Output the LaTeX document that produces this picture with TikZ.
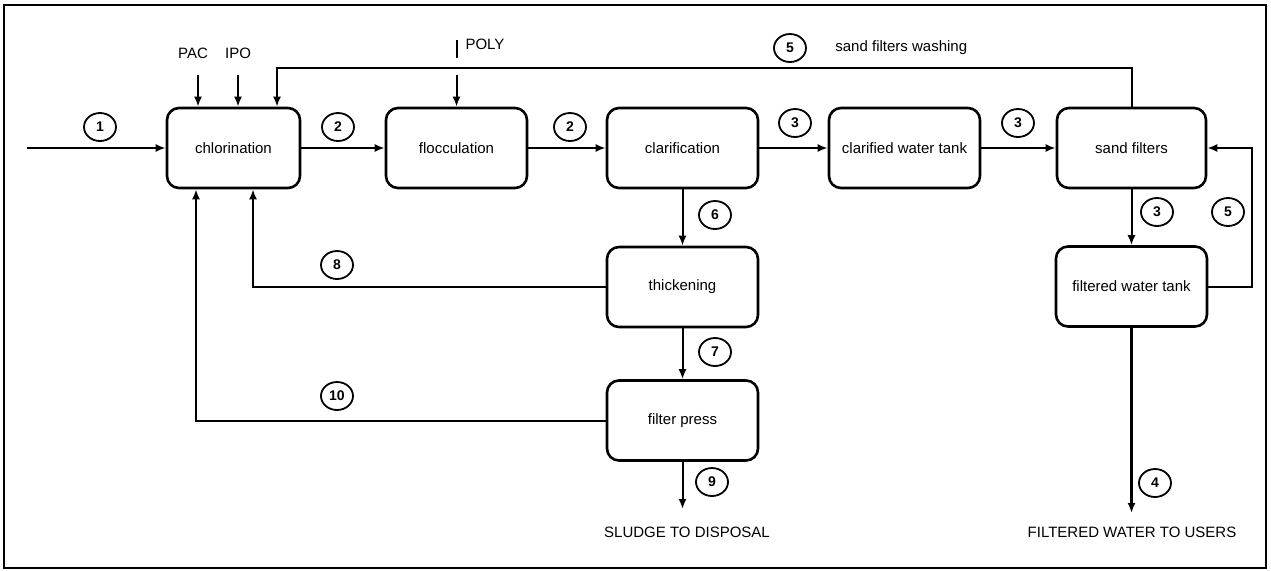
\documentclass[tikz,border=0pt]{standalone}
\usepackage{fontspec}
\setmainfont{Liberation Sans}
\usetikzlibrary{arrows.meta,shapes.geometric}
\begin{document}
\begin{tikzpicture}[x=0.5pt,y=-0.5pt,
  font=\fontsize{7.5}{9}\selectfont,
  unit/.style={draw,line width=1.3pt,rounded corners=6pt,minimum height=40pt,minimum width=75.5pt,inner sep=0pt},
  num/.style={draw,ellipse,line width=0.9pt,minimum width=16pt,minimum height=14pt,inner sep=0pt,font=\fontsize{7}{8}\selectfont\bfseries},
  flow/.style={line width=1pt,-{Latex[length=5pt,width=4pt]}},
  plain/.style={line width=1pt},
  lbl/.style={inner sep=0pt}]
\useasboundingbox (0,0) rectangle (1271,570);
\draw[line width=0.7pt] (4,5) rectangle (1266,568);

% process units
\node[unit,minimum width=66.5pt] (chl) at (233.5,148) {chlorination};
\node[unit,minimum width=70.5pt] (floc) at (456.5,148) {flocculation};
\node[unit] (clar) at (682.5,148) {clarification};
\node[unit] (cwt) at (904.5,148) {clarified water tank};
\node[unit,minimum width=74.5pt] (sand) at (1131.5,148) {sand filters};
\node[unit] (fwt) at (1131.5,286.5) {filtered water tank};
\node[unit] (thick) at (682.5,287) {thickening};
\node[unit] (fp) at (682.5,420.5) {filter press};

% reagent labels
\node[lbl] (pac) at (193,53) {PAC};
\node[lbl] (ipo) at (238,53) {IPO};
\node[lbl] (poly) at (485,44) {POLY};
\node[lbl,anchor=west] (wash) at (835,48) {sand filters washing};
\node[lbl] (sludge) at (687,532) {SLUDGE TO DISPOSAL};
\node[lbl] (users) at (1132,532) {FILTERED WATER TO USERS};

% free ends
\coordinate (in1) at (27,148);
\coordinate (pacS) at (198,75);
\coordinate (ipoS) at (238,75);
\coordinate (polyA) at (456.5,40);
\coordinate (polyB) at (456.5,58);
\coordinate (polyS) at (456.5,75);
\coordinate (w1) at (1131.5,68);
\coordinate (w2) at (277,68);
\coordinate (c8) at (253,287);
\coordinate (c10) at (196,420.5);
\coordinate (r1) at (1252,286.5);
\coordinate (r2) at (1252,148);
\coordinate (sl) at (682.5,509);
\coordinate (us) at (1131.5,513);

% main line
\draw[flow] (in1) -- (chl.west);
\draw[flow] (chl.east) -- (floc.west);
\draw[flow] (floc.east) -- (clar.west);
\draw[flow] (clar.east) -- (cwt.west);
\draw[flow] (cwt.east) -- (sand.west);

% reagents
\draw[flow] (pacS) -- (pacS |- chl.north);
\draw[flow] (ipoS) -- (ipoS |- chl.north);
\draw[plain] (polyA) -- (polyB);
\draw[flow] (polyS) -- (floc.north);

% sand filters washing return
\draw[flow] (sand.north) -- (w1) -- (w2) -- (w2 |- chl.north);

% sludge line
\draw[flow] (clar.south) -- (thick.north);
\draw[flow] (thick.south) -- (fp.north);
\draw[flow] (fp.south) -- (sl);
\draw[flow] (thick.west) -- (c8) -- (c8 |- chl.south);
\draw[flow] (fp.west) -- (c10) -- (c10 |- chl.south);

% filtered water
\draw[flow] (sand.south) -- (fwt.north);
\draw[flow] (fwt.east) -- (r1) -- (r2) -- (sand.east);
\draw[flow,line width=1.4pt] (fwt.south) -- (us);

% stream numbers
\node[num] (n1) at (100,127) {1};
\node[num] (n2a) at (338,127) {2};
\node[num] (n2b) at (570,127) {2};
\node[num] (n3a) at (795,123) {3};
\node[num] (n3b) at (1018,123) {3};
\node[num] (n5a) at (790,48) {5};
\node[num] (n6) at (715,215) {6};
\node[num] (n7) at (715,352) {7};
\node[num] (n9) at (712,482) {9};
\node[num] (n8) at (337,265) {8};
\node[num] (n10) at (337,396) {10};
\node[num] (n3c) at (1157,212) {3};
\node[num] (n5b) at (1228,212) {5};
\node[num] (n4) at (1155,483) {4};
\end{tikzpicture}
\end{document}
